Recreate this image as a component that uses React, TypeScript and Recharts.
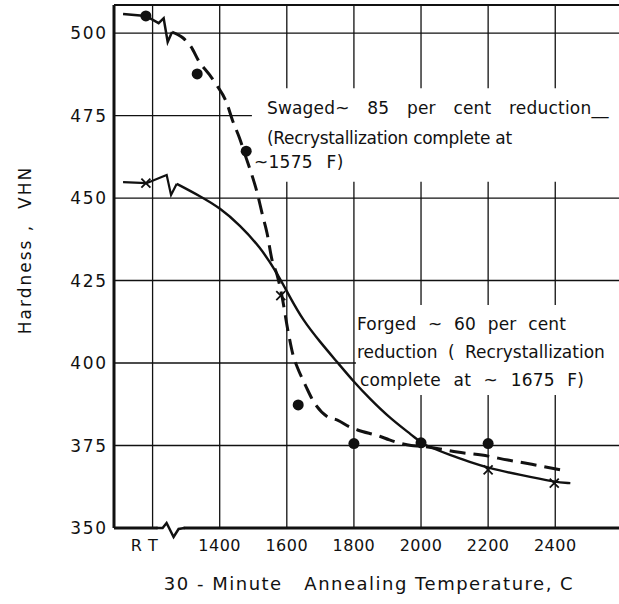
import React from "react"
import { ComposedChart, Line, XAxis, YAxis, CartesianGrid, ReferenceArea, ReferenceLine } from "recharts"

// annealing temperature (C) and hardness (VHN)
const tempTicks = [1200, 1400, 1600, 1800, 2000, 2200, 2400]
const hardnessTicks = [350, 375, 400, 425, 450, 475, 500]

const swagedPointTemps = [1180, 1333, 1479, 1634, 1800, 2000, 2200]
const swagedPointHardness = [505.2, 487.6, 464.2, 387.3, 375.6, 375.8, 375.6]

const forgedPointTemps = [1180, 1582, 2200, 2397]
const forgedPointHardness = [454.5, 420.4, 367.6, 363.6]

const swagedCurveTemps = [1258, 1291, 1315, 1336, 1370, 1391, 1421, 1438, 1459, 1479, 1494, 1512, 1526, 1541, 1556, 1571, 1586, 1603, 1621, 1631, 1658, 1677, 1723, 1751, 1788, 1811, 1877, 1906, 1971, 2000, 2043, 2108, 2181, 2259, 2330, 2417]
const swagedCurveHardness = [500.3, 498.5, 495.8, 491.8, 487.3, 484.2, 478.8, 473.6, 468.2, 462.1, 457.6, 451.5, 445.5, 439.4, 431.2, 426.7, 420, 410, 401.5, 398.8, 392.7, 388.8, 383.6, 382.7, 380.6, 379.7, 377.8, 376.7, 375.0, 374.8, 374.2, 373.0, 372.1, 370.6, 369.3, 367.6]

const forgedCurveTemps = [1272, 1341, 1401, 1460, 1520, 1571, 1609, 1648, 1699, 1750, 1797, 1848, 1907, 1976, 2000, 2027, 2086, 2146, 2200, 2295, 2400, 2445]
const forgedCurveHardness = [454.3, 450.6, 447.0, 441.8, 435.2, 427.3, 420.0, 413.0, 406.4, 400.3, 394.6, 389.1, 383.3, 377.9, 375.8, 374.5, 372.1, 370.0, 368.2, 366.1, 363.9, 363.6]

// axis-break zigzags drawn on the two curves
const swagedBreakTemps = [1112, 1180, 1218, 1233, 1245, 1258]
const swagedBreakHardness = [505.8, 505.2, 503.0, 504.5, 497.3, 500.3]
const forgedBreakTemps = [1112, 1182, 1227, 1242, 1255, 1272]
const forgedBreakHardness = [454.8, 454.5, 456.4, 457, 450.9, 454.3]

const zip = (xs: number[], ys: number[]) => xs.map((x, i) => ({ x, y: ys[i] }))

const FONT = "DejaVu Sans"
const INK = "#111"

const Dot = (props: any) => {
  const { cx, cy } = props
  if (cx == null || cy == null) return null
  return <circle cx={cx} cy={cy} r={5.5} fill={INK} />
}

const Cross = (props: any) => {
  const { cx, cy } = props
  if (cx == null || cy == null) return null
  const s = 4.5
  return (
    <path d={`M${cx - s},${cy - s}L${cx + s},${cy + s}M${cx - s},${cy + s}L${cx + s},${cy - s}`} stroke={INK} strokeWidth={1.8} fill="none" />
  )
}

const XTick = (props: any) => {
  const { x, y, payload } = props
  const rt = payload.value === 1200
  const axisY = y - 8
  return (
    <g>
      {rt && (
        <>
          <rect x={x + 5} y={axisY - 3} width={26} height={6} fill="#fff" />
          <path
            d={`M${x + 4},${axisY}L${x + 10},${axisY}L${x + 14},${axisY - 5}L${x + 21},${axisY + 9}L${x + 26},${axisY + 1}L${x + 32},${axisY}`}
            stroke={INK}
            strokeWidth={2.5}
            fill="none"
          />
        </>
      )}
      <text x={rt ? x - 8 : x} y={y + 15} textAnchor="middle" fontFamily={FONT} fontSize={16} letterSpacing={0.5} fill={INK} style={{ whiteSpace: "pre" }}>
        {rt ? "R T" : payload.value}
      </text>
    </g>
  )
}

const note = (ls: number, ws: number) => ({ fontFamily: FONT, fontSize: 17, fill: INK, letterSpacing: ls, wordSpacing: ws, whiteSpace: "pre" as const })

export default function App() {
  return (
    <div style={{ width: 619, height: 604, background: "#fff" }}>
      <style>{"body{margin:0}"}</style>
      <ComposedChart width={619} height={604} margin={{ top: 5, right: 0, left: 0, bottom: 0 }}>
        <CartesianGrid stroke={INK} strokeWidth={1.3} horizontalValues={hardnessTicks} verticalValues={tempTicks} />
        <XAxis
          type="number"
          dataKey="x"
          domain={[1085, 2590]}
          ticks={tempTicks}
          allowDataOverflow
          height={76}
          axisLine={{ stroke: INK, strokeWidth: 3 }}
          tickLine={false}
          tick={<XTick />}
          label={{
            content: () => (
              <text x={369} y={590} textAnchor="middle" fontFamily={FONT} fontSize={18} letterSpacing={1.5} fill={INK} style={{ whiteSpace: "pre" }}>
                {"30 - Minute   Annealing Temperature, C"}
              </text>
            ),
          }}
        />
        <YAxis
          type="number"
          domain={[350, 508.5]}
          ticks={hardnessTicks}
          allowDataOverflow
          width={114}
          axisLine={{ stroke: INK, strokeWidth: 3 }}
          tickLine={false}
          tickSize={4}
          tick={{ fontFamily: FONT, fontSize: 17, fill: INK, letterSpacing: 1.8 }}
          label={{
            content: () => (
              <text x={25} y={250} transform="rotate(-90, 25, 250)" textAnchor="middle" dominantBaseline="central" fontFamily={FONT} fontSize={17} letterSpacing={2} fill={INK} style={{ whiteSpace: "pre" }}>
                {"Hardness ,  VHN"}
              </text>
            ),
          }}
        />
        <ReferenceLine y={508.5} stroke={INK} strokeWidth={2} />
        <ReferenceArea
          x1={1496}
          x2={2590}
          y1={454.9}
          y2={483.3}
          fill="#fff"
          fillOpacity={1}
          stroke="none"
          label={{
            content: (p: any) => {
              const { x, y } = p.viewBox
              return (
                <g>
                  <text x={x + 15} y={y + 26} style={note(0.2, 12)}>Swaged~ 85 per cent reduction__</text>
                  <text x={x + 15} y={y + 56} style={note(-0.3, 0)}>(Recrystallization complete at</text>
                  <text x={x + 2} y={y + 80} style={note(0.3, 8)}>~1575 F)</text>
                </g>
              )
            },
          }}
        />
        <ReferenceArea
          x1={1806}
          x2={2590}
          y1={390.3}
          y2={417.6}
          fill="#fff"
          fillOpacity={1}
          stroke="none"
          label={{
            content: (p: any) => {
              const { x, y } = p.viewBox
              return (
                <g>
                  <text x={x + 1} y={y + 25} style={note(0.2, 6)}>Forged ~ 60 per cent</text>
                  <text x={x + 1} y={y + 53} style={note(0, 5)}>reduction ( Recrystallization</text>
                  <text x={x + 4} y={y + 81} style={note(0.2, 7)}>complete at ~ 1675 F)</text>
                </g>
              )
            },
          }}
        />
        <Line data={zip(swagedBreakTemps, swagedBreakHardness)} dataKey="y" type="linear" stroke={INK} strokeWidth={2.5} dot={false} isAnimationActive={false} />
        <Line data={zip(forgedBreakTemps, forgedBreakHardness)} dataKey="y" type="linear" stroke={INK} strokeWidth={2.2} dot={false} isAnimationActive={false} />
        <Line data={zip(swagedCurveTemps, swagedCurveHardness)} dataKey="y" type="monotone" stroke={INK} strokeWidth={3} strokeDasharray="16 8" dot={false} isAnimationActive={false} />
        <Line data={zip(forgedCurveTemps, forgedCurveHardness)} dataKey="y" type="basis" stroke={INK} strokeWidth={2.4} dot={false} isAnimationActive={false} />
        <Line data={zip(forgedPointTemps, forgedPointHardness)} dataKey="y" stroke="none" dot={<Cross />} activeDot={false} isAnimationActive={false} />
        <Line data={zip(swagedPointTemps, swagedPointHardness)} dataKey="y" stroke="none" dot={<Dot />} activeDot={false} isAnimationActive={false} />
      </ComposedChart>
    </div>
  )
}
